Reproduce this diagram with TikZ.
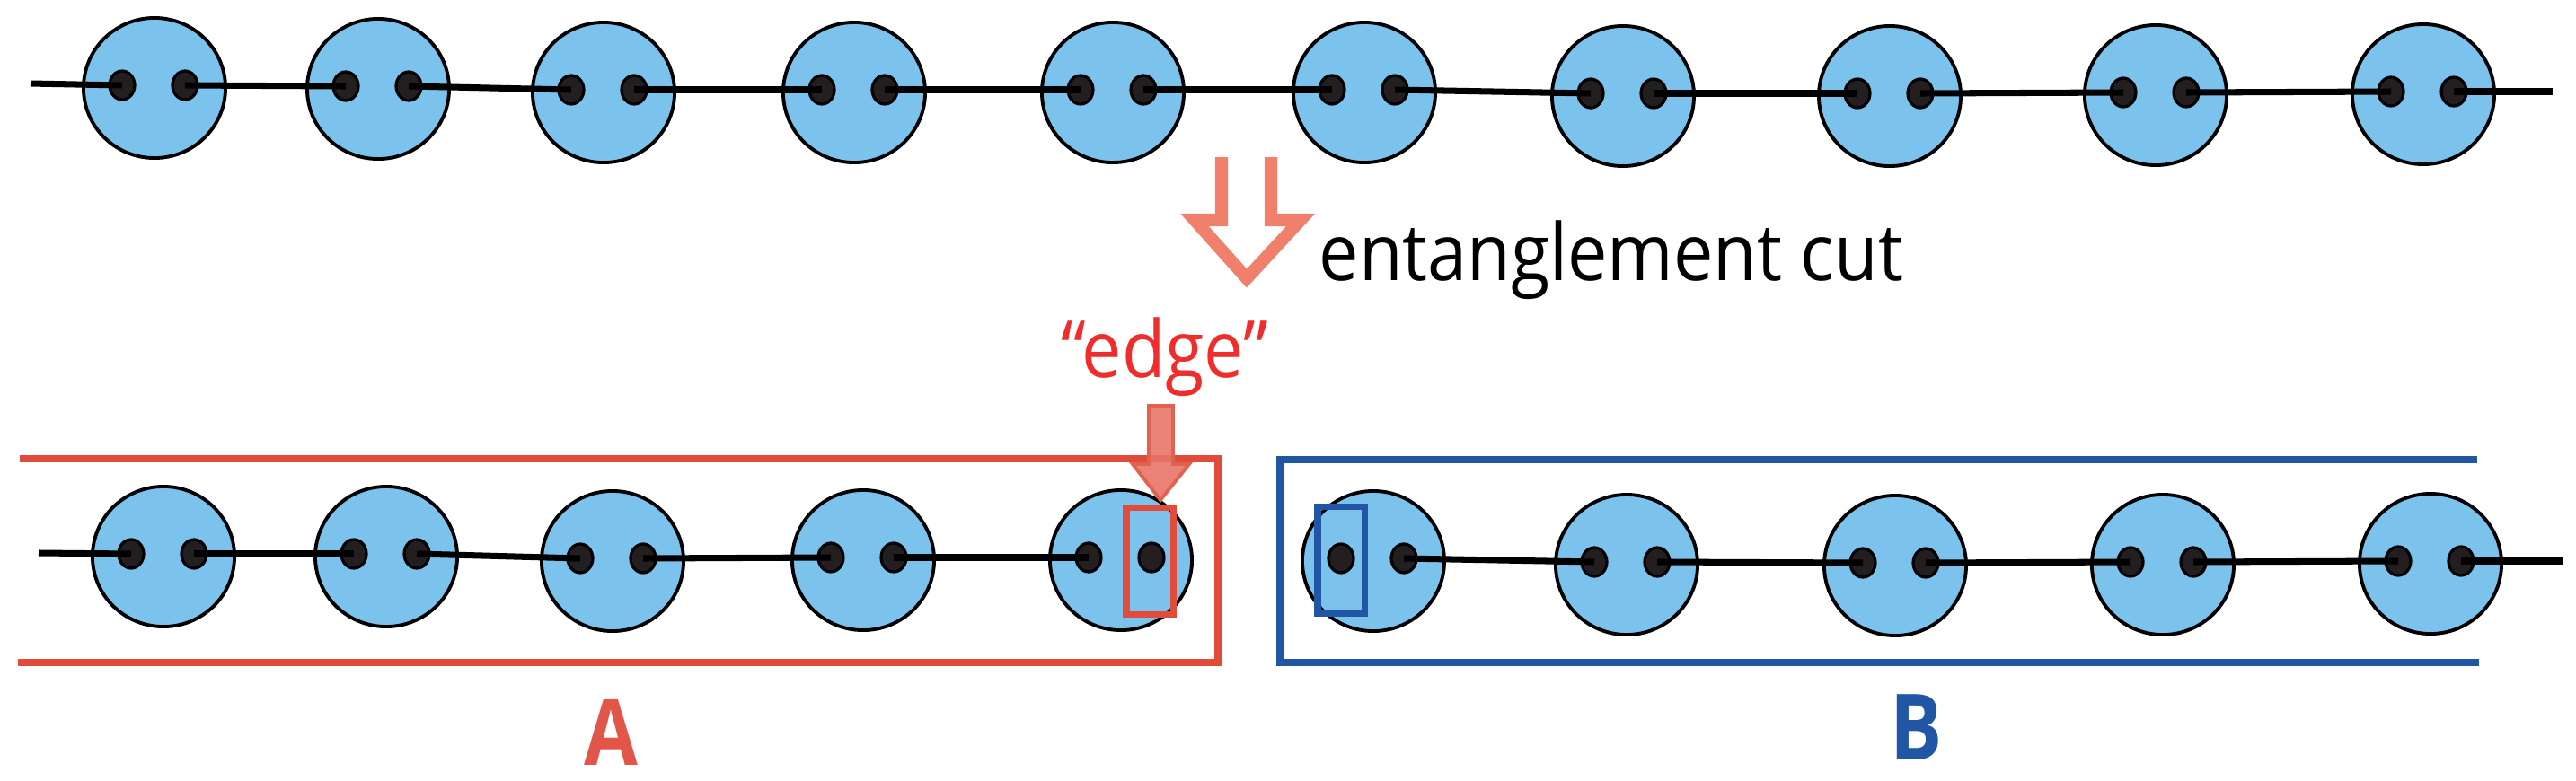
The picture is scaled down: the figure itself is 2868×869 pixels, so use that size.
\documentclass[tikz,border=0pt]{standalone}
\usepackage{fontspec}
\setmainfont{Open Sans}
\newfontfamily\cutfont[FakeStretch=0.9]{Open Sans}
\newfontfamily\partfont[FakeStretch=0.85]{Open Sans}
\usepackage{tikz}
\usetikzlibrary{shapes.geometric,positioning}
\definecolor{cellblue}{RGB}{123,195,236}
\definecolor{dotgray}{RGB}{35,31,32}
\definecolor{cutsalmon}{RGB}{240,128,108}
\definecolor{edgered}{RGB}{238,45,45}
\definecolor{boxred}{RGB}{224,75,58}
\definecolor{arrowred}{RGB}{224,98,82}
\definecolor{arrowfill}{RGB}{232,116,104}
\definecolor{boxblue}{RGB}{33,86,165}
\definecolor{labelred}{RGB}{226,86,74}

\begin{document}
\begin{tikzpicture}[
  x=0.01cm, y=-0.01cm,
  cell/.style={ellipse, draw=black, line width=1.1pt, fill=cellblue,
               minimum width=1.58cm, minimum height=1.56cm, inner sep=0pt},
  dot/.style={ellipse, draw=black, line width=0.9pt, fill=dotgray,
              minimum width=0.28cm, minimum height=0.32cm, inner sep=0pt},
  bond/.style={line width=2pt, black},
  partbox/.style={line width=2pt},
  edgebox/.style={draw, line width=2pt, minimum width=0.52cm,
                  minimum height=1.18cm, inner sep=0pt},
  tag/.style={anchor=base, inner sep=0pt}
]
  \useasboundingbox (0,0) rectangle (2868,869);

  % full chain
  \foreach \i/\x/\y in {1/172/95, 2/421/96, 3/672/100, 4/951/100, 5/1239/100,
                        6/1519/100, 7/1807/104, 8/2104/104, 9/2400/103, 10/2698/102} {
    \node[cell] (t\i) at (\x,\y+3) {};
    \node[dot] (tl\i) at (\x-36,\y) {};
    \node[dot] (tr\i) at (\x+34,\y) {};
  }
  \coordinate (tstart) at (34,93);
  \coordinate (tend) at (2842,102);
  \draw[bond] (tstart) -- (tl1.center);
  \foreach \i [count=\j from 2] in {1,...,9}
    \draw[bond] (tr\i.center) -- (tl\j.center);
  \draw[bond] (tr10.center) -- (tend);

  % cut arrow
  \draw[cutsalmon, line width=4pt] (1360,175) -- (1360,245) -- (1330,245) -- (1388,310)
    -- (1448,245) -- (1415,245) -- (1415,175);
  \node[anchor=base west, inner sep=0pt, font=\cutfont\fontsize{25}{30}\selectfont]
    (cutlabel) at (1468,312) {entanglement cut};

  % part A
  \foreach \i/\x/\y in {1/182/617, 2/430/617, 3/682/622, 4/961/621, 5/1248/621} {
    \node[cell] (a\i) at (\x,\y+3) {};
    \node[dot] (al\i) at (\x-36,\y) {};
    \node[dot] (ar\i) at (\x+34,\y) {};
  }
  \coordinate (astart) at (43,616);
  \draw[bond] (astart) -- (al1.center);
  \foreach \i [count=\j from 2] in {1,...,4}
    \draw[bond] (ar\i.center) -- (al\j.center);

  % part B
  \foreach \i/\x/\y in {1/1529/622, 2/1811/626, 3/2110/627, 4/2408/626, 5/2706/625} {
    \node[cell] (b\i) at (\x,\y+3) {};
    \node[dot] (bl\i) at (\x-36,\y) {};
    \node[dot] (br\i) at (\x+34,\y) {};
  }
  \coordinate (bend) at (2853,625);
  \foreach \i [count=\j from 2] in {1,...,4}
    \draw[bond] (br\i.center) -- (bl\j.center);
  \draw[bond] (br5.center) -- (bend);

  % frames
  \draw[partbox, boxred] (20,738) -- (1356,738) -- (1356,511) -- (22,511);
  \draw[partbox, boxblue] (2758,512) -- (1425,512) -- (1425,738) -- (2760,738);
  \node[edgebox, boxred] (edgeA) at (1280,625) {};
  \node[edgebox, boxblue] (edgeB) at (1493,624) {};

  % edge marker
  \node[tag, text=edgered, font=\cutfont\fontsize{25}{30}\selectfont]
    (edgelabel) at (1297,420) {“edge”};
  \draw[arrowred, fill=arrowfill, line width=1.1pt, fill opacity=0.9]
    (1279,452) -- (1279,517) -- (1261,517) -- (1292,557) -- (1324,517)
    -- (1306,517) -- (1306,452) -- cycle;

  \node[tag, text=labelred, font=\partfont\bfseries\fontsize{29}{34}\selectfont]
    (labA) at (680,852) {A};
  \node[tag, text=boxblue, font=\partfont\bfseries\fontsize{29}{34}\selectfont]
    (labB) at (2134,846) {B};
\end{tikzpicture}
\end{document}
